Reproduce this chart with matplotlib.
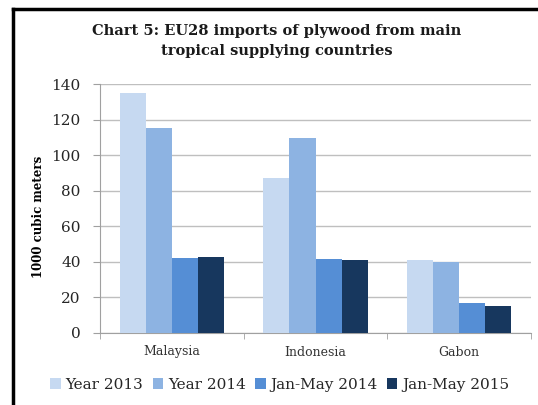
import matplotlib.pyplot as plt
import numpy as np

countries = ["Malaysia", "Indonesia", "Gabon"]
series_names = ["Year 2013", "Year 2014", "Jan-May 2014", "Jan-May 2015"]
year_2013 = [135, 87, 41]
year_2014 = [115, 109.5, 40]
janmay_2014 = [42.3, 41.5, 17]
janmay_2015 = [42.8, 41, 15.3]
colors = ["#C6D9F1", "#8DB3E2", "#558ED5", "#17375E"]

plt.rcParams['font.family'] = ['DejaVu Serif']

fig = plt.figure(figsize=(5.38, 4.05), dpi=100)
ax = fig.add_axes([100 / 538, 1 - 333 / 405, 431 / 538, 249 / 405])

x = np.arange(len(countries))
w = 0.182
for i, (vals, name) in enumerate(zip([year_2013, year_2014, janmay_2014, janmay_2015], series_names)):
    ax.bar(x + (i - 1.5) * w, vals, w, color=colors[i], label=name, zorder=3)

ax.set_xlim(-0.5, 2.5)
ax.set_ylim(0, 140)
ax.set_yticks(range(0, 141, 20))
ax.yaxis.grid(True, color="#BFBFBF", linewidth=1, zorder=0)
ax.set_xticks(x)
ax.set_xticklabels(countries, fontsize=9)
ax.set_xticks([-0.5, 0.5, 1.5, 2.5], minor=True)
ax.tick_params(axis="x", which="major", length=0, pad=9, colors="#333333")
ax.tick_params(axis="x", which="minor", length=4, color="#A0A0A0")
ax.tick_params(axis="y", length=5, color="#A0A0A0", labelsize=11, pad=9, labelcolor="#262626")
for s in ["top", "right"]:
    ax.spines[s].set_visible(False)
ax.spines["left"].set_color("#A0A0A0")
ax.spines["bottom"].set_color("#A0A0A0")
ax.set_ylabel("1000 cubic meters", fontsize=8.5, fontweight="bold")
ax.yaxis.set_label_coords(-0.128, 0.465)

fig.text(0.515, 1 - 41 / 405, "Chart 5: EU28 imports of plywood from main\ntropical supplying countries",
         ha="center", va="center", fontsize=10.5, fontweight="bold", linespacing=1.55, color="#1a1a1a")

fig.legend(loc="center", bbox_to_anchor=(0.52, 1 - 385 / 405), ncol=4, fontsize=11,
           frameon=False, handlelength=0.7, handleheight=0.7, handletextpad=0.3, columnspacing=0.6,
           labelcolor="#262626")

# outer chart frame
fig.add_artist(plt.Line2D([13 / 538, 13 / 538], [0, 1 - 9 / 405], color="black", linewidth=2.5,
                          transform=fig.transFigure))
fig.add_artist(plt.Line2D([13 / 538, 1], [1 - 9 / 405, 1 - 9 / 405], color="black", linewidth=2.5,
                          transform=fig.transFigure))

fig.savefig("out.png", dpi=100)
